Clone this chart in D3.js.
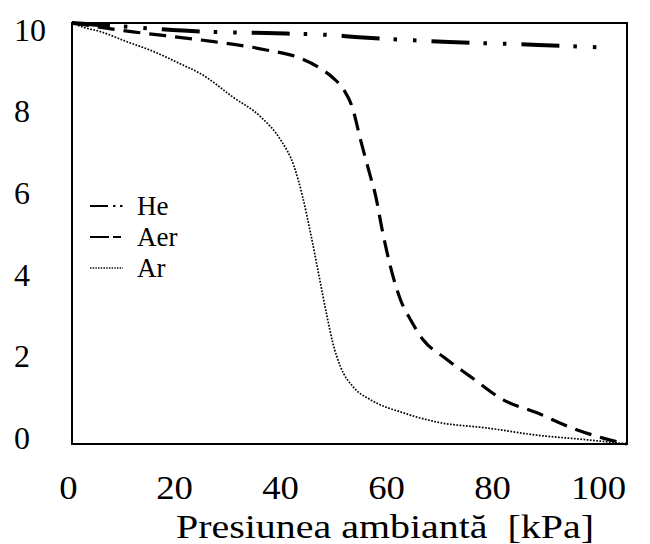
<!DOCTYPE html>
<html><head><meta charset="utf-8">
<script src="https://cdn.jsdelivr.net/npm/d3@7"></script>
<style>body{margin:0;background:#fff}svg text{font-family:"Liberation Serif","Times New Roman",Times,serif !important;fill:#000}</style>
</head><body><svg id="c" width="650" height="544" font-family="Liberation Serif, Times New Roman, serif"></svg>
<script>
const xTicks=[0,20,40,60,80,100];
const yTicks=[0,2,4,6,8,10];
const xTitle="Presiunea ambiantă  [kPa]";
const heX=[0,11,23,35,47,51,68,84,97];
const heY=[10,9.9,9.8,9.76,9.71,9.67,9.55,9.48,9.41];
const aerX=[0,11,23,35,41,45,47,49,50.5,52,53.8,54.7,55.9,57.4,59.2,61,63.3,66.9,71.8,77.7,83.8,89.7,95.7,100];
const aerY=[10,9.79,9.6,9.36,9.17,8.9,8.7,8.41,8.0,7.22,6.34,5.9,5.08,4.2,3.42,2.95,2.47,2.07,1.6,1.05,0.74,0.4,0.14,0];
const arX=[0,2,5,10,14,20,23,29,34,37.6,40,41.5,43,44.5,46,47,48.4,50.7,53.8,59.7,65.8,74.8,83.8,92.8,100];
const arY=[10,9.9,9.8,9.55,9.36,9.0,8.81,8.24,7.77,7.22,6.6,5.9,5.0,4.0,3.0,2.4,1.83,1.35,1.05,0.74,0.52,0.38,0.21,0.1,0];
const seriesNames=["He","Aer","Ar"];

const svg=d3.select("#c");
const L=72,R=627,T=23,B=444;
const x=d3.scaleLinear().domain([0,100]).range([L,R]);
const y=d3.scaleLinear().domain([0,10]).range([B,T]);
// label placement scales (labels in the original are not exactly under the frame ends)
const xl=d3.scaleLinear().domain([0,100]).range([68,598]);
const yl=d3.scaleLinear().domain([0,10]).range([437,29]);

const styles=[
 {w:4,dash:"38,14,3.5,16,3.5,15"},
 {w:3.2,dash:"17,9"},
 {w:1.7,dash:"1.7,1.5"}
];
const data=[[heX,heY],[aerX,aerY],[arX,arY]];
const line=d3.line().x(d=>x(d[0])).y(d=>y(d[1])).curve(d3.curveMonotoneX);
data.forEach((s,i)=>{
  const pts=s[0].map((v,k)=>[v,s[1][k]]);
  svg.append("path").attr("d",line(pts)).attr("fill","none").attr("stroke","#000")
   .attr("stroke-width",styles[i].w).attr("stroke-dasharray",styles[i].dash);
});

svg.append("rect").attr("x",L).attr("y",T).attr("width",R-L).attr("height",B-T)
  .attr("fill","none").attr("stroke","#000").attr("stroke-width",2);

const gx=svg.append("g").attr("transform",`translate(0,${B})`)
  .call(d3.axisBottom(xl).tickValues(xTicks).tickSize(0).tickPadding(31).tickFormat(d3.format("d")));
gx.attr("font-family",null).attr("font-size",null);
gx.select(".domain").remove();
gx.selectAll("text").attr("font-size","34px").attr("transform","scale(1.08,1)");

const gy=svg.append("g").attr("transform",`translate(14,0)`)
  .call(d3.axisRight(yl).tickValues(yTicks).tickSize(0).tickPadding(0).tickFormat(d3.format("d")));
gy.attr("font-family",null).attr("font-size",null);
gy.select(".domain").remove();
gy.selectAll("text").attr("font-size","32px").attr("text-anchor","start").attr("dy","0.35em");

svg.append("text").attr("x",385).attr("y",538).attr("text-anchor","middle")
  .attr("font-size","34px").attr("textLength",418).attr("lengthAdjust","spacingAndGlyphs")
  .style("white-space","pre").text(xTitle);

const legY=[206,237,268];
const legX2=[124,121,123];
const legDash=["18,5,2.5,4.5,2.5,20","19,4,11,20","1.4,1.3"];
seriesNames.forEach((n,i)=>{
  svg.append("line").attr("x1",90).attr("x2",legX2[i]).attr("y1",legY[i]).attr("y2",legY[i])
    .attr("stroke","#000").attr("stroke-width",i==2?1.4:2.2).attr("stroke-dasharray",legDash[i]);
  svg.append("text").attr("x",137).attr("y",legY[i]).attr("dy","0.35em").attr("font-size","27px").text(n);
});
</script></body></html>
